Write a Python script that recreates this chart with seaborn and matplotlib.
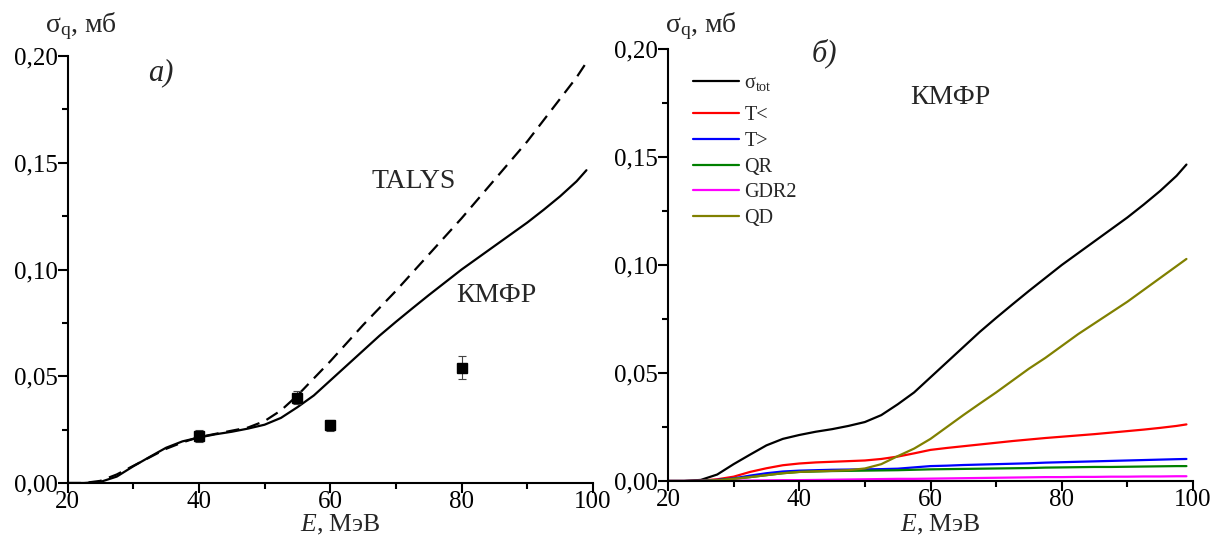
import matplotlib
matplotlib.use("Agg")
import matplotlib.pyplot as plt
import seaborn as sns
import pandas as pd
from matplotlib.ticker import MultipleLocator, FuncFormatter
from matplotlib.lines import Line2D

# ---------------- data ----------------
energy = [20, 22.5, 25, 27.5, 30, 32.5, 35, 37.5, 40, 42.5, 45, 47.5, 50,
          52.5, 55, 57.5, 60, 62.5, 65, 67.5, 70, 72.5, 75, 77.5, 80, 82.5,
          85, 87.5, 90, 92.5, 95, 97.5, 99]
kmfr_total = [0, 0, 0.0005, 0.003, 0.0078, 0.0122, 0.0165, 0.0195, 0.0213,
              0.0228, 0.024, 0.0255, 0.0273, 0.0305, 0.0355, 0.041, 0.048,
              0.055, 0.062, 0.069, 0.0755, 0.0818, 0.088, 0.094, 0.100, 0.1055,
              0.111, 0.1165, 0.122, 0.128, 0.1343, 0.1413, 0.1465]
talys = [0, 0, 0.001, 0.004, 0.008, 0.012, 0.016, 0.019, 0.0215, 0.023, 0.0245,
         0.026, 0.029, 0.034, 0.041, 0.049, 0.057, 0.0655, 0.074, 0.082, 0.090,
         0.0985, 0.107, 0.1155, 0.124, 0.133, 0.142, 0.151, 0.160, 0.170,
         0.180, 0.190, 0.197]
t_less = [0, 0, 0.0002, 0.0008, 0.002, 0.0042, 0.0059, 0.0073, 0.0081, 0.0086,
          0.0089, 0.0092, 0.0095, 0.0102, 0.0113, 0.0128, 0.0144, 0.0153,
          0.0161, 0.0169, 0.0177, 0.0185, 0.0192, 0.0199, 0.0205, 0.0211,
          0.0217, 0.0224, 0.0231, 0.0238, 0.0246, 0.0255, 0.0262]
t_greater = [0, 0, 0.0001, 0.0005, 0.0012, 0.0025, 0.0036, 0.0044, 0.0048,
             0.005, 0.0052, 0.0053, 0.0054, 0.0055, 0.0057, 0.0063, 0.0069,
             0.0071, 0.0074, 0.0076, 0.0078, 0.008, 0.0082, 0.0085, 0.0087,
             0.0089, 0.0091, 0.0093, 0.0095, 0.0097, 0.0099, 0.0101, 0.0102]
qr = [0, 0, 0.0001, 0.0004, 0.001, 0.0018, 0.0027, 0.0036, 0.0042, 0.0044,
      0.0046, 0.0047, 0.0048, 0.0049, 0.005, 0.0052, 0.0054, 0.0055, 0.0056,
      0.0057, 0.0058, 0.0059, 0.006, 0.0062, 0.0063, 0.0064, 0.0065, 0.0065,
      0.0066, 0.0067, 0.0068, 0.0069, 0.0069]
gdr2 = [0, 0, 0, 0.0001, 0.0002, 0.0002, 0.0003, 0.0004, 0.0004, 0.0005, 0.0006,
        0.0007, 0.0008, 0.0009, 0.001, 0.001, 0.0011, 0.0012, 0.0013, 0.0014,
        0.0015, 0.0016, 0.0017, 0.0018, 0.0018, 0.0019, 0.0019, 0.002, 0.002,
        0.0021, 0.0021, 0.0022, 0.0022]
qd = [0, 0, 0, 0.0003, 0.001, 0.0018, 0.0027, 0.0036, 0.0042, 0.0045, 0.0047,
      0.005, 0.0058, 0.0078, 0.0115, 0.015, 0.0195, 0.025, 0.0305, 0.0358,
      0.041, 0.0465, 0.052, 0.057, 0.0625, 0.068, 0.073, 0.078, 0.083, 0.0885,
      0.094, 0.0995, 0.1028]

exp_energy = [40, 55, 60, 80]
exp_sigma = [0.022, 0.040, 0.027, 0.054]
exp_err = [0.003, 0.003, 0.0025, 0.0055]

series_names = [r"$\mathrm{σ_{tot}}$", "T<", "T>", "QR", "GDR2", "QD"]
series_values = [kmfr_total, t_less, t_greater, qr, gdr2, qd]
series_colors = ["#000000", "#ff0000", "#0000ff", "#008000", "#ff00ff", "#808000"]

# ---------------- style ----------------
sns.set_style("ticks")
plt.rcParams["font.family"] = ["Liberation Serif", "DejaVu Serif"]
plt.rcParams["mathtext.fontset"] = "custom"
plt.rcParams["mathtext.rm"] = "Liberation Serif"
plt.rcParams["mathtext.it"] = "Liberation Serif:italic"

W, H = 1216, 537
fig = plt.figure(figsize=(W / 100, H / 100), dpi=100)
axL = fig.add_axes([67.5 / W, 1 - 483 / H, 525.5 / W, 427 / H])
axR = fig.add_axes([668 / W, 1 - 481 / H, 525 / W, 432 / H])

comma = FuncFormatter(lambda v, p: f"{v:.2f}".replace(".", ","))

def style_axis(ax):
    ax.set_xlim(20, 100)
    ax.set_ylim(0, 0.20)
    ax.xaxis.set_major_locator(MultipleLocator(20))
    ax.xaxis.set_minor_locator(MultipleLocator(10))
    ax.yaxis.set_major_locator(MultipleLocator(0.05))
    ax.yaxis.set_minor_locator(MultipleLocator(0.025))
    ax.yaxis.set_major_formatter(comma)
    for s in ["top", "right"]:
        ax.spines[s].set_visible(False)
    for s in ["left", "bottom"]:
        ax.spines[s].set_linewidth(1.5)
        ax.spines[s].set_color("black")
    ax.tick_params(which="major", length=7, width=1.5, labelsize=18, pad=0,
                   colors="black")
    ax.tick_params(axis="x", which="major", pad=-1)
    ax.tick_params(which="minor", length=4, width=1.5, colors="black")
    ax.set_xlabel("")
    ax.set_ylabel("")

def ftext(x, y, s, **kw):
    fig.text(x / W, 1 - y / H, s, **kw)

# ---------------- left panel ----------------
dfL = pd.DataFrame({"E": energy, "КМФР": kmfr_total, "TALYS": talys})
sns.lineplot(data=dfL, x="E", y="TALYS", ax=axL, color="black", lw=1.6,
             linestyle=(0, (6, 3.5)))
sns.lineplot(data=dfL, x="E", y="КМФР", ax=axL, color="black", lw=1.6)
axL.errorbar(exp_energy, exp_sigma, yerr=exp_err, fmt="s", color="black",
             ms=7, capsize=3, elinewidth=0.8, ecolor="#444444", capthick=0.8)
style_axis(axL)
ftext(161, 73, "а)", fontsize=22, style="italic", ha="center", va="center")
ftext(414, 182, "TALYS", fontsize=20, ha="center", va="center")
ftext(496, 295, "КМФР", fontsize=20, ha="center", va="center")

# ---------------- right panel ----------------
rows = []
for name, vals in zip(series_names, series_values):
    for e, v in zip(energy, vals):
        rows.append({"E": e, "sigma": v, "comp": name})
dfR = pd.DataFrame(rows)
sns.lineplot(data=dfR, x="E", y="sigma", hue="comp", ax=axR,
             palette=dict(zip(series_names, series_colors)),
             hue_order=series_names, lw=1.6, legend=False)
style_axis(axR)

handles = [Line2D([], [], color=c, lw=1.6) for c in series_colors]
leg_kw = dict(loc="upper left", frameon=False, fontsize=14.5,
              handlelength=2.3, handletextpad=0.25, labelspacing=0.33,
              borderaxespad=0, bbox_transform=fig.transFigure)
leg1 = axR.legend(handles[:1], series_names[:1],
                  bbox_to_anchor=(685 / W, 1 - 66 / H), **leg_kw)
axR.add_artist(leg1)
axR.legend(handles[1:], series_names[1:],
           bbox_to_anchor=(685 / W, 1 - 98 / H), **leg_kw)

ftext(824, 53, "б)", fontsize=22, style="italic", ha="center", va="center")
ftext(950, 97, "КМФР", fontsize=20, ha="center", va="center")

# ---------------- axis titles ----------------
for x0, xc in [(45, 340), (665, 940)]:
    ftext(x0, 32, r"$\mathrm{σ_{q}}$, мб", fontsize=20, ha="left",
          va="baseline")
    ftext(xc, 531.5, r"$\mathit{E}$, МэВ", fontsize=18.5, ha="center",
          va="baseline")

fig.savefig("out.png", dpi=100)
